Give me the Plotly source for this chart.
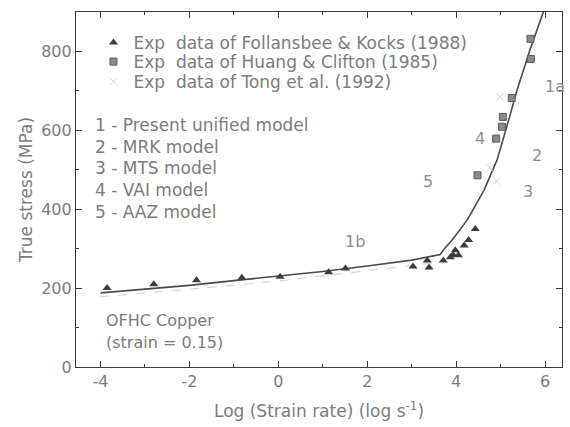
import plotly.graph_objects as go

# Follansbee & Kocks (1988) - triangles
fk_rate = [-3.85, -2.80, -1.84, -0.82, 0.04, 1.13, 1.51, 3.03, 3.35, 3.39, 3.71,
           3.87, 3.93, 3.98, 4.05, 4.18, 4.28, 4.43]
fk_stress = [200, 210, 220, 226, 229, 240, 250, 255, 270, 252, 270,
             278, 284, 296, 283, 308, 322, 350]

# Huang & Clifton (1985) - squares
hc_rate = [4.48, 4.90, 5.03, 5.05, 5.25, 5.68, 5.67]
hc_stress = [486, 579, 609, 634, 682, 781, 832]

# Tong et al. (1992)
tong_rate = [4.76, 4.91, 4.99]
tong_stress = [505, 472, 685]

# 1 - present unified model
m1_rate = [-4.0, -3.0, -2.0, -1.0, 0.0, 1.0, 2.0, 3.0, 3.64, 3.75, 3.91, 4.25,
           4.63, 4.92, 5.15, 5.37, 5.66, 5.96]
m1_stress = [188, 197, 207, 219, 230, 242, 256, 271, 285, 302, 322, 373,
             449, 525, 614, 702, 804, 900]

# other models, low-rate branch (faint)
mo_rate = [-4.0, -2.0, 0.0, 2.0, 3.0, 3.6]
mo_stress = [178, 197, 218, 243, 257, 266]

model_lines = ["1 - Present unified model", "2 - MRK model", "3 - MTS model",
               "4 - VAI model", "5 - AAZ model"]
model_y = [614, 558, 505, 449, 393]

curve_tags = ["1a", "2", "3", "4", "5", "1b"]
tag_x = [6.22, 5.81, 5.62, 4.54, 3.36, 1.73]
tag_y = [710, 537, 444, 580, 470, 318]

x_ticks = [-4, -2, 0, 2, 4, 6]
x_ticktext = ["-4", "-2", "0", "2", "4", "6"]
y_ticks = [0, 200, 400, 600, 800]

FONT = "DejaVu Sans, Verdana, sans-serif"
TXT = "#7c7c7c"
INK = "#3a3a3a"

fig = go.Figure()

fig.add_trace(go.Scatter(x=mo_rate, y=mo_stress, mode="lines", showlegend=False,
                         line=dict(color="#cfcfcf", width=1, dash="dash"),
                         hoverinfo="skip"))
fig.add_trace(go.Scatter(x=m1_rate, y=m1_stress, mode="lines", showlegend=False,
                         line=dict(color="#4a4a4a", width=1.6)))

# each experimental series gets its own legend box so the rows sit tightly
fig.add_trace(go.Scatter(x=fk_rate, y=fk_stress, mode="markers", legend="legend",
                         name="Exp  data of Follansbee & Kocks (1988)",
                         marker=dict(symbol="triangle-up", size=8, color="#3c3c3c")))
fig.add_trace(go.Scatter(x=hc_rate, y=hc_stress, mode="markers", legend="legend2",
                         name="Exp  data of Huang & Clifton (1985)",
                         marker=dict(symbol="square", size=7, color="#8a8a8a",
                                     line=dict(color="#5a5a5a", width=1))))
fig.add_trace(go.Scatter(x=tong_rate, y=tong_stress, mode="markers", legend="legend3",
                         name="Exp  data of Tong et al. (1992)",
                         marker=dict(symbol="x-thin", size=8,
                                     line=dict(color="#d4d4d4", width=1))))

annotations = []
for txt, yv in zip(model_lines, model_y):
    annotations.append(dict(x=-4.16, y=yv, xref="x", yref="y", text=txt,
                            showarrow=False, xanchor="left", yanchor="middle",
                            font=dict(family=FONT, size=17, color=TXT)))
for txt, xv, yv in zip(curve_tags, tag_x, tag_y):
    annotations.append(dict(x=xv, y=yv, xref="x", yref="y", text=txt,
                            showarrow=False, xanchor="center", yanchor="middle",
                            font=dict(family=FONT, size=16, color="#8e8e8e")))
annotations.append(dict(x=-3.93, y=119, xref="x", yref="y", text="OFHC Copper",
                        showarrow=False, xanchor="left", yanchor="middle",
                        font=dict(family=FONT, size=16, color=TXT)))
annotations.append(dict(x=-3.93, y=63, xref="x", yref="y", text="(strain = 0.15)",
                        showarrow=False, xanchor="left", yanchor="middle",
                        font=dict(family=FONT, size=16, color=TXT)))

axis_common = dict(showline=True, mirror="ticks", linecolor=INK, linewidth=1.2,
                   ticks="inside", tickcolor=INK, ticklen=6, tickwidth=1,
                   showgrid=False, zeroline=False,
                   tickfont=dict(family=FONT, size=16, color=TXT))


def legend_box(yc):
    return dict(x=0.036, y=yc, xanchor="left", yanchor="middle",
                bgcolor="rgba(0,0,0,0)", borderwidth=0,
                font=dict(family=FONT, size=17, color=TXT), itemwidth=30)


fig.update_layout(
    width=570, height=427,
    margin=dict(l=76, r=8, t=12, b=60),
    paper_bgcolor="white", plot_bgcolor="white",
    font=dict(family=FONT, size=16, color=TXT),
    xaxis=dict(range=[-4.55, 6.38], tickvals=x_ticks, ticktext=x_ticktext,
               minor=dict(tickvals=[-3, -1, 1, 3, 5], ticks="inside", ticklen=3,
                          tickcolor=INK),
               title=dict(text="Log (Strain rate) (log s<sup>-1</sup>)",
                          font=dict(family=FONT, size=17, color=TXT), standoff=14),
               **axis_common),
    yaxis=dict(range=[0, 900], tickvals=y_ticks,
               minor=dict(tickvals=[100, 300, 500, 700], ticks="inside", ticklen=3,
                          tickcolor=INK),
               title=dict(text="True stress (MPa)",
                          font=dict(family=FONT, size=17, color=TXT), standoff=4),
               **axis_common),
    legend=legend_box(0.913),
    legend2=legend_box(0.859),
    legend3=legend_box(0.803),
    annotations=annotations,
)

fig.write_html("out.html")
